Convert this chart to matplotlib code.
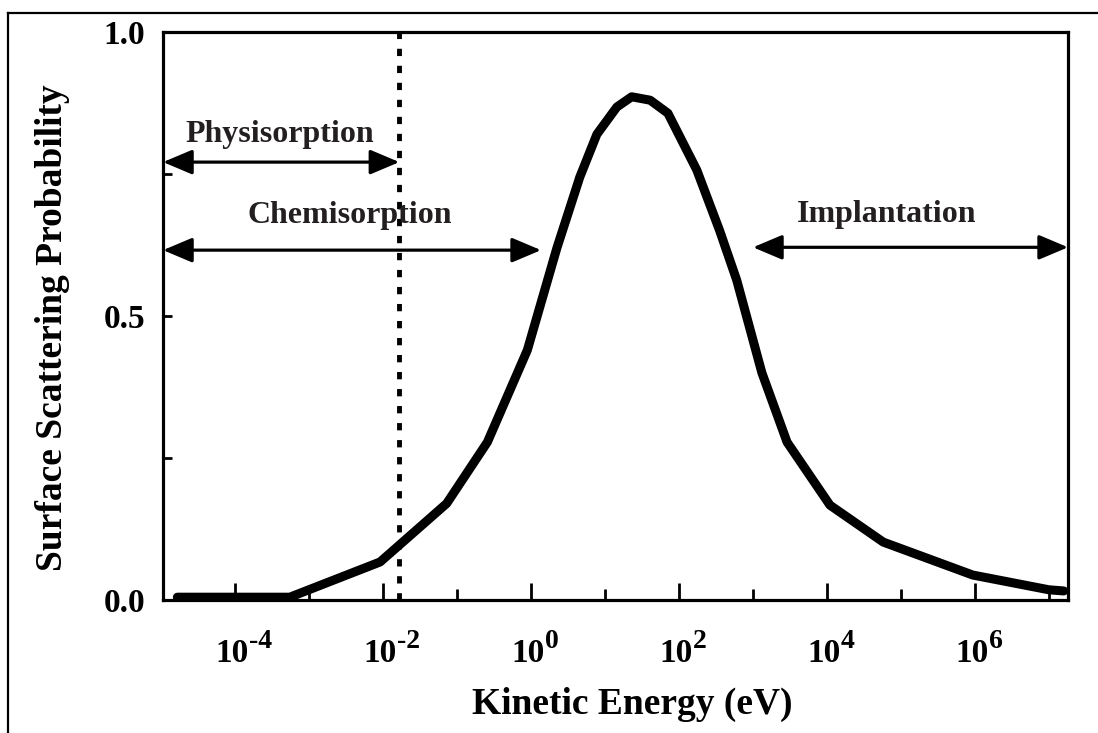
import numpy as np
import matplotlib
matplotlib.use('Agg')
import matplotlib.pyplot as plt
from matplotlib.lines import Line2D
from matplotlib.ticker import FixedLocator, FuncFormatter, NullFormatter

plt.rcParams['font.family'] = ['Liberation Serif', 'DejaVu Serif']
plt.rcParams['font.weight'] = 'bold'

# curve: log10 of energy (eV) and probability
log_energia = [-4.78, -4.0, -3.26, -2.04, -1.14, -0.59, -0.05, 0.35, 0.66, 0.89,
               1.16, 1.36, 1.61, 1.85, 2.24, 2.55, 2.78, 3.12, 3.46, 4.04,
               4.76, 5.97, 7.0, 7.2]
probabilidade = [0.005, 0.005, 0.005, 0.067, 0.17, 0.278, 0.44, 0.62, 0.745, 0.82,
                 0.868, 0.886, 0.88, 0.857, 0.757, 0.65, 0.563, 0.40, 0.278, 0.167,
                 0.102, 0.044, 0.018, 0.016]

expoentes = [-4, -2, 0, 2, 4, 6]       # labelled decades
expoentes_menores = [-5, -3, -1, 1, 3, 5, 7]

limite_fisi = 10**-1.78      # dotted line
fim_quimi = 10**0.135        # end of chemisorption arrow
inicio_impl = 10**3.0        # start of implantation arrow
xmin, xmax = 10**-4.973, 10**7.257

energia = 10**np.array(log_energia)

fig = plt.figure(figsize=(10.98, 7.33), dpi=100)
ax = fig.add_axes([0.1485, 0.1814, 0.8242, 0.7749])

ax.plot(energia, probabilidade, color='black', lw=6.5,
        solid_joinstyle='round', solid_capstyle='round')
ax.axvline(limite_fisi, color='black', lw=3.5, linestyle=(0, (1.5, 2.0)))

ax.set_xscale('log')
ax.set_xlim(xmin, xmax)
ax.set_ylim(0, 1.0)

ax.xaxis.set_major_locator(FixedLocator([10.0**k for k in expoentes]))
ax.xaxis.set_minor_locator(FixedLocator([10.0**k for k in expoentes_menores]))
ax.xaxis.set_major_formatter(NullFormatter())
ax.xaxis.set_minor_formatter(NullFormatter())

ax.yaxis.set_major_locator(FixedLocator([0.0, 0.5, 1.0]))
ax.yaxis.set_minor_locator(FixedLocator([0.25, 0.75]))
ax.yaxis.set_major_formatter(FuncFormatter(lambda v, p: '%.1f' % v))

ax.tick_params(axis='x', which='major', direction='in', length=12, width=2)
ax.tick_params(axis='x', which='minor', direction='in', length=8, width=2)
ax.tick_params(axis='y', which='both', direction='in', length=6.5, width=2,
               labelsize=24, pad=13)
for lab in ax.get_yticklabels():
    lab.set_fontweight('bold')
for s in ax.spines.values():
    s.set_linewidth(2.3)

# x tick labels: "10" plus a raised exponent written with a hyphen
for k in expoentes:
    ax.annotate('10', xy=(10.0**k, 0), xycoords=('data', 'axes fraction'),
                xytext=(-2, -44.5), textcoords='offset points',
                ha='center', va='baseline', fontsize=24, fontweight='bold')
    ax.annotate(str(k).replace('\u2212', '-'), xy=(10.0**k, 0),
                xycoords=('data', 'axes fraction'),
                xytext=(10, -34.5), textcoords='offset points',
                ha='left', va='baseline', fontsize=20, fontweight='bold')

ax.set_xlabel('Kinetic Energy (eV)', fontsize=27, fontweight='bold')
ax.xaxis.set_label_coords(0.518, -0.153)
ax.set_ylabel('Surface Scattering Probability', fontsize=27, fontweight='bold')
ax.yaxis.set_label_coords(-0.103, 0.48)

seta = dict(arrowstyle='<|-|>,head_length=0.9,head_width=0.38',
            mutation_scale=20, lw=2.3, color='black', shrinkA=0, shrinkB=0)
ax.annotate('', xy=(limite_fisi, 0.771), xytext=(xmin, 0.771), arrowprops=seta)
ax.annotate('', xy=(fim_quimi, 0.616), xytext=(xmin, 0.616), arrowprops=seta)
ax.annotate('', xy=(xmax, 0.621), xytext=(inicio_impl, 0.621), arrowprops=seta)

cor_txt = '#231f20'
ax.text(10**-3.39, 0.806, 'Physisorption', fontsize=23, fontweight='bold',
        ha='center', va='baseline', color=cor_txt)
ax.text(10**-2.45, 0.664, 'Chemisorption', fontsize=23, fontweight='bold',
        ha='center', va='baseline', color=cor_txt)
ax.text(10**4.81, 0.665, 'Implantation', fontsize=23, fontweight='bold',
        ha='center', va='baseline', color=cor_txt)

# outer frame (top and left only visible)
fig.add_artist(Line2D([0.0073, 1.0], [1 - 13/733, 1 - 13/733],
                      transform=fig.transFigure, color='black', lw=1.6))
fig.add_artist(Line2D([0.0073, 0.0073], [0.0, 1 - 13/733],
                      transform=fig.transFigure, color='black', lw=1.6))

fig.savefig('out.png', dpi=100)
